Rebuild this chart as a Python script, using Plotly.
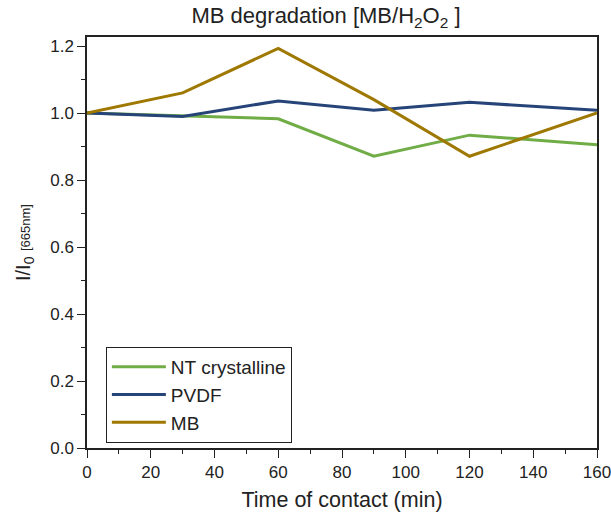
import plotly.graph_objects as go

time_min = [0, 30, 60, 90, 120, 160]
nt_crystalline = [1.0, 0.991, 0.983, 0.871, 0.934, 0.905]
pvdf = [1.0, 0.990, 1.036, 1.008, 1.032, 1.008]
mb = [1.0, 1.060, 1.193, 1.040, 0.871, 1.0]

series = [
    ("NT crystalline", nt_crystalline, "#70ad47"),
    ("PVDF", pvdf, "#264478"),
    ("MB", mb, "#9e7800"),
]

fig = go.Figure()
for name, vals, col in series:
    fig.add_trace(go.Scatter(x=time_min, y=vals, mode="lines", name=name,
                             line=dict(color=col, width=3)))

font = "Liberation Sans, Arial, sans-serif"
axis_common = dict(
    showgrid=False, zeroline=False, showline=True, linecolor="#222",
    linewidth=1.5, mirror=True, ticks="outside", ticklen=8, tickwidth=1.2,
    tickcolor="#222", tickfont=dict(size=17, color="#222", family=font),
    automargin=False, ticklabeloverflow="allow",
)
fig.update_layout(
    width=611, height=515,
    margin=dict(l=87, r=14, t=37, b=67),
    paper_bgcolor="white", plot_bgcolor="white",
    font=dict(family=font, color="#222"),
    title=dict(text="MB degradation [MB/H<sub>2</sub>O<sub>2</sub> ]",
               x=326 / 611, xanchor="center", y=0.985, yanchor="top",
               font=dict(size=22, color="#222")),
    xaxis=dict(range=[0, 160], dtick=20, tick0=0,
               minor=dict(dtick=10, ticks="outside", ticklen=4, tickcolor="#222"),
               title=dict(text="Time of contact (min)", font=dict(size=21.5), standoff=11),
               **axis_common),
    yaxis=dict(range=[0, 1.227], dtick=0.2, tick0=0, tickformat=".1f",
               minor=dict(dtick=0.1, ticks="outside", ticklen=4, tickcolor="#222"),
               title=dict(text="I/I<sub>0</sub> <span style='font-size:13px'>[665nm]</span>",
                          font=dict(size=20), standoff=14),
               **axis_common),
    legend=dict(x=0.037, y=0.246, xanchor="left", yanchor="top",
                bordercolor="#222", borderwidth=1, bgcolor="white",
                font=dict(size=19, color="#222"), tracegroupgap=0,
                itemwidth=54),
)
fig.write_html("out.html")
